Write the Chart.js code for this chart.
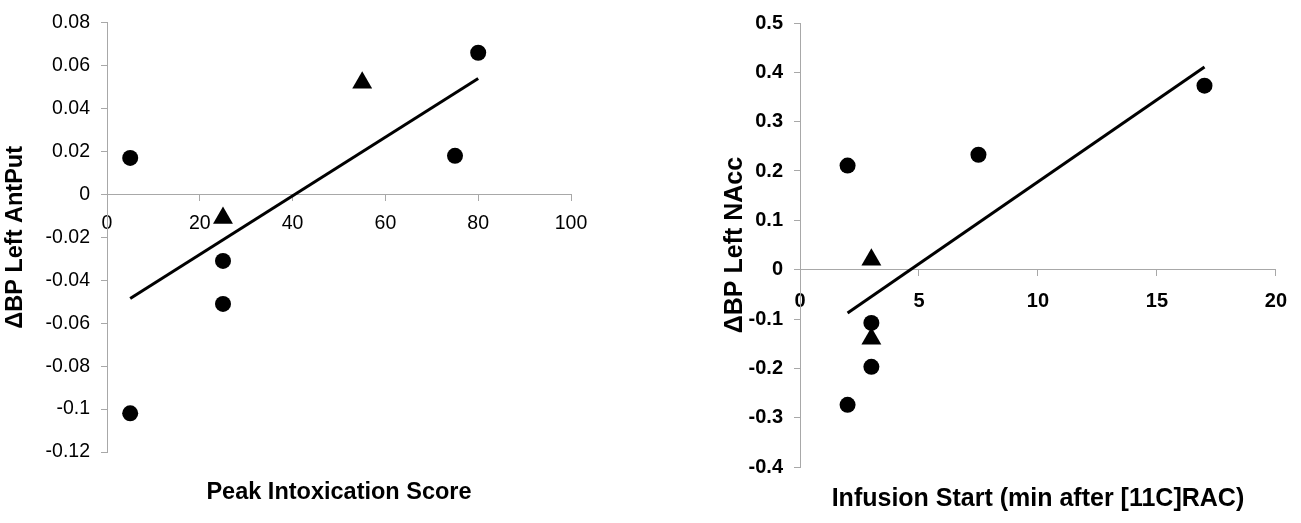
<!DOCTYPE html>
<html>
<head>
<meta charset="utf-8">
<script src="https://cdn.jsdelivr.net/npm/chart.js@4"></script>
<style>
  body { margin: 0; background: #fff; }
  .box { position: absolute; top: 0; height: 523px; }
  #left { left: 0; width: 650px; }
  #right { left: 650px; width: 651px; }
</style>
</head>
<body>
<div class="box" id="left"><canvas id="intoxChart"></canvas></div>
<div class="box" id="right"><canvas id="infusionChart"></canvas></div>
<script>
// Left panel: peak intoxication score vs change in BP (left AntPut)
const intoxCircleX = [5, 5, 25, 25, 75, 80];
const intoxCircleY = [0.017, -0.102, -0.031, -0.051, 0.018, 0.066];
const intoxTriangleX = [25, 55];
const intoxTriangleY = [-0.011, 0.052];
const intoxTrendX = [5, 80];
const intoxTrendY = [-0.0485, 0.054];

// Right panel: infusion start vs change in BP (left NAcc)
const infusionCircleX = [2, 2, 3, 3, 7.5, 17];
const infusionCircleY = [0.211, -0.274, -0.108, -0.197, 0.233, 0.373];
const infusionTriangleX = [3, 3];
const infusionTriangleY = [0.02, -0.14];
const infusionTrendX = [2, 17];
const infusionTrendY = [-0.088, 0.411];

const FONT = '"Liberation Sans", Arial, sans-serif';
const AXIS_GREY = '#a8a8a8';

function pts(xs, ys) {
  return xs.map((x, i) => ({ x: x, y: ys[i] }));
}

function tickLabel(v) {
  return String(+Number(v).toFixed(2));
}

function makeChart(id, cfg) {
  const tickFont = { family: FONT, size: cfg.tickSize, weight: cfg.boldTicks ? 'bold' : 'normal' };
  const titleFont = { family: FONT, size: cfg.titleSize, weight: 'bold' };

  return new Chart(document.getElementById(id), {
    type: 'scatter',
    data: {
      datasets: [
        {
          data: pts(cfg.circleX, cfg.circleY),
          pointStyle: 'circle',
          pointRadius: 8,
          backgroundColor: '#000',
          borderColor: '#000',
          borderWidth: 0
        },
        {
          data: pts(cfg.triX, cfg.triY),
          pointStyle: 'triangle',
          pointRadius: 11.5,
          backgroundColor: '#000',
          borderColor: '#000',
          borderWidth: 0
        },
        {
          type: 'line',
          data: pts(cfg.trendX, cfg.trendY),
          borderColor: '#000',
          borderWidth: 3,
          pointRadius: 0,
          fill: false
        }
      ]
    },
    options: {
      responsive: true,
      maintainAspectRatio: false,
      animation: false,
      events: [],
      layout: { padding: cfg.padding },
      plugins: { legend: { display: false }, tooltip: { enabled: false } },
      scales: {
        x: {
          type: 'linear',
          position: { y: 0 },
          min: cfg.xMin, max: cfg.xMax,
          grid: { drawOnChartArea: false, tickLength: 6, color: AXIS_GREY },
          border: { color: AXIS_GREY, width: 1 },
          ticks: { stepSize: cfg.xStep, color: '#000', font: tickFont, padding: cfg.xTickPad, maxRotation: 0, callback: tickLabel }
        },
        xTitle: {
          type: 'linear',
          position: 'bottom',
          axis: 'x',
          min: cfg.xMin, max: cfg.xMax,
          grid: { display: false },
          border: { display: false },
          ticks: { display: false },
          title: { display: true, text: cfg.xTitle, color: '#000', font: titleFont, padding: { top: 0, bottom: cfg.xTitlePad } },
          afterFit: s => { s.height = cfg.bottomSpace; }
        },
        y: {
          type: 'linear',
          position: 'left',
          min: cfg.yMin, max: cfg.yMax,
          grid: { drawOnChartArea: false, tickLength: 6, color: AXIS_GREY },
          border: { color: AXIS_GREY, width: 1 },
          ticks: { stepSize: cfg.yStep, color: '#000', font: tickFont, padding: 11, callback: tickLabel },
          title: { display: true, text: cfg.yTitle, color: '#000', font: titleFont, padding: { top: cfg.yTitlePad, bottom: 0 } },
          afterFit: s => { s.width = cfg.yWidth; }
        }
      }
    }
  });
}

makeChart('intoxChart', {
  circleX: intoxCircleX, circleY: intoxCircleY,
  triX: intoxTriangleX, triY: intoxTriangleY,
  trendX: intoxTrendX, trendY: intoxTrendY,
  xMin: 0, xMax: 100, xStep: 20,
  yMin: -0.12, yMax: 0.08, yStep: 0.02,
  xTitle: 'Peak Intoxication Score',
  yTitle: '\u0394BP Left AntPut',
  boldTicks: false,
  tickSize: 19.5,
  titleSize: 23.5,
  padding: { left: 0, right: 79, top: 21, bottom: 0 },
  yWidth: 107,
  bottomSpace: 71,
  xTitlePad: 16,
  yTitlePad: 1,
  xTickPad: 12
});

makeChart('infusionChart', {
  circleX: infusionCircleX, circleY: infusionCircleY,
  triX: infusionTriangleX, triY: infusionTriangleY,
  trendX: infusionTrendX, trendY: infusionTrendY,
  xMin: 0, xMax: 20, xStep: 5,
  yMin: -0.4, yMax: 0.5, yStep: 0.1,
  xTitle: 'Infusion Start (min after [11C]RAC)',
  yTitle: '\u0394BP Left NAcc',
  boldTicks: true,
  tickSize: 20,
  titleSize: 25,
  padding: { left: 70, right: 21, top: 19, bottom: 0 },
  yWidth: 80,
  bottomSpace: 56,
  xTitlePad: 9,
  yTitlePad: 0,
  xTickPad: 14
});
</script>
</body>
</html>
